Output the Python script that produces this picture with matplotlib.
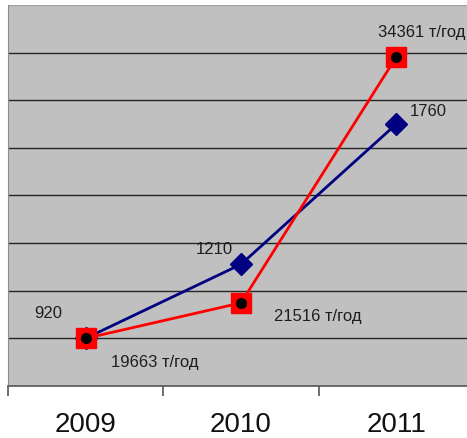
import matplotlib
matplotlib.use("Agg")
import matplotlib.pyplot as plt

plt.rcParams['font.family'] = ['Liberation Sans', 'DejaVu Sans']

years = ['2009', '2010', '2011']
# blue series (plain numbers)
blue_vals = [920, 1210, 1760]
# red series, tonnes per year
red_vals = [19663, 21516, 34361]
red_unit = 'т/год'

x = list(range(len(years)))

fig = plt.figure(figsize=(4.67, 4.38), dpi=100)
ax1 = fig.add_axes([8 / 467, 52 / 438, 466 / 467, 381 / 438])
ax2 = ax1.twinx()

# each series gets its own (hidden) value axis, 8 grid bands each
ax1.set_ylim(733, 733 + 8 * 186.7)
ax2.set_ylim(17176, 17176 + 8 * 2487)
ax1.set_xlim(-0.5, 2.5)

ax1.set_facecolor('#c0c0c0')
ax2.set_facecolor('none')
lo, hi = ax1.get_ylim()
for i in range(1, 8):
    ax1.axhline(lo + (hi - lo) * i / 8, color='#262626', lw=1.0, zorder=1)

ax1.plot(x, blue_vals, color='#000080', lw=2, marker='D', markersize=11,
         markerfacecolor='#000080', markeredgecolor='#000080', zorder=3)
ax2.plot(x, red_vals, color='#ff0000', lw=2, marker='s', markersize=14,
         markerfacecolor='#ff0000', markeredgecolor='#ff0000', zorder=3)
ax2.plot(x, red_vals, linestyle='none', marker='o', markersize=7,
         markerfacecolor='black', markeredgecolor='black', zorder=4)

txt = dict(fontsize=12, color='#1e1e1e', ha='center', va='center',
           textcoords='offset pixels')
blue_offsets = [(-37, 25), (-27, 15), (32, 13)]
red_offsets = [(69, -24), (77, -14), (25, 24)]
for xi, v, off in zip(x, blue_vals, blue_offsets):
    ax1.annotate(f'{v}', (xi, v), xytext=off, **txt)
for xi, v, off in zip(x, red_vals, red_offsets):
    ax2.annotate(f'{v} {red_unit}', (xi, v), xytext=off, **txt)

for ax in (ax1, ax2):
    ax.set_yticks([])
    for s in ('right', 'top'):
        ax.spines[s].set_visible(False)
ax2.spines['left'].set_visible(False)
ax2.spines['bottom'].set_visible(False)
ax1.spines['left'].set_color('#8c8c8c')
ax1.spines['bottom'].set_color('#555555')
ax1.spines['bottom'].set_linewidth(1.2)
ax1.axhline(hi, color='#a0a0a0', lw=1, zorder=1)

ax1.set_xticks(x)
ax1.set_xticklabels(years, fontsize=20, color='#111111')
ax1.tick_params(axis='x', which='major', length=0, pad=19)
ax1.set_xticks([-0.5, 0.5, 1.5, 2.5], minor=True)
ax1.tick_params(axis='x', which='minor', length=7, width=1.2, color='#555555')

fig.savefig('out.png', dpi=100)
